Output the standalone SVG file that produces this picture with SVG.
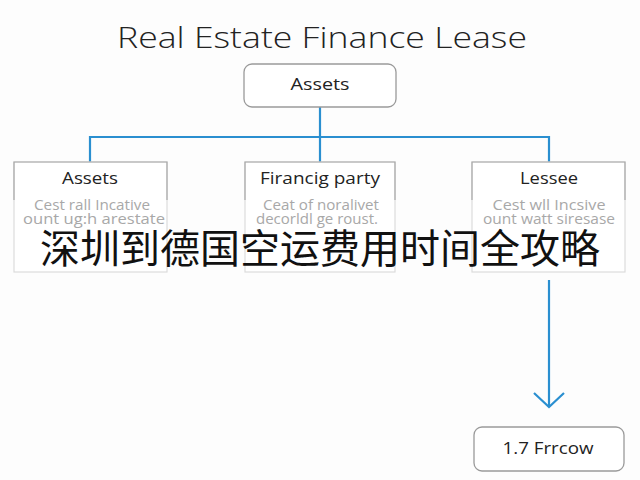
<svg xmlns="http://www.w3.org/2000/svg" width="640" height="480" viewBox="0 0 640 480">
<style>
.t{font-family:"Open Sans","Noto Sans","Liberation Sans",sans-serif;text-anchor:middle}
.title{font-size:30px;fill:#222;font-weight:300}
.hd{font-size:15.5px;fill:#222}
.bd{font-size:14px;fill:#a8a8a8}
.box{fill:#fff;stroke:#9a9a9a;stroke-width:1.3}
.card{fill:#fff;stroke:#dcdcdc;stroke-width:1.2}
.cardtop{fill:none;stroke:#a8a8a8;stroke-width:1.2}
.con{fill:none;stroke:#2a8fd0;stroke-width:2.2}
.cn{font-family:"Noto Sans CJK SC","Noto Sans",sans-serif;font-size:40px;fill:#111;text-anchor:middle}
</style>
<rect width="640" height="480" fill="#fdfdfd"/>
<text class="t title" x="322" y="48" textLength="410" lengthAdjust="spacingAndGlyphs">Real Estate Finance Lease</text>
<g id="connectors">
<path class="con" d="M320 107V137M90 162V137H549V162M320 137V162"/>
<path class="con" d="M549 280V406"/>
<path class="con" d="M534 393L549 407L564 393"/>
</g>
<g id="top-assets">
<rect class="box" x="244" y="64" width="152" height="43" rx="8"/>
<text class="t hd" x="320" y="90" textLength="59" lengthAdjust="spacingAndGlyphs">Assets</text>
</g>
<g id="assets">
<rect class="card" x="14" y="162" width="153" height="110"/>
<path class="cardtop" d="M14 200V162H167V200"/>
<text class="t hd" x="90" y="184" textLength="56" lengthAdjust="spacingAndGlyphs">Assets</text>
<text class="t bd" x="92" y="210" textLength="116" lengthAdjust="spacingAndGlyphs">Cest rall Incative</text>
<text class="t bd" x="94" y="224" textLength="142" lengthAdjust="spacingAndGlyphs">ount ug:h arestate</text>
</g>
<g id="financing-party">
<rect class="card" x="245" y="162" width="150" height="110"/>
<path class="cardtop" d="M245 200V162H395V200"/>
<text class="t hd" x="320" y="184" textLength="120" lengthAdjust="spacingAndGlyphs">Firancig party</text>
<text class="t bd" x="321" y="210" textLength="116" lengthAdjust="spacingAndGlyphs">Ceat of noralivet</text>
<text class="t bd" x="317" y="224" textLength="122" lengthAdjust="spacingAndGlyphs">decorldl ge roust.</text>
</g>
<g id="lessee">
<rect class="card" x="472" y="162" width="153" height="110"/>
<path class="cardtop" d="M472 200V162H625V200"/>
<text class="t hd" x="549" y="184" textLength="58" lengthAdjust="spacingAndGlyphs">Lessee</text>
<text class="t bd" x="549" y="210" textLength="113" lengthAdjust="spacingAndGlyphs">Cest wll Incsive</text>
<text class="t bd" x="549" y="224" textLength="132" lengthAdjust="spacingAndGlyphs">ount watt siresase</text>
</g>
<g id="frrcow">
<rect class="box" x="474" y="427" width="150" height="44" rx="8"/>
<text class="t hd" x="548" y="454" textLength="91" lengthAdjust="spacingAndGlyphs">1.7 Frrcow</text>
</g>
<text class="cn" x="320" y="263">深圳到德国空运费用时间全攻略</text>
</svg>
